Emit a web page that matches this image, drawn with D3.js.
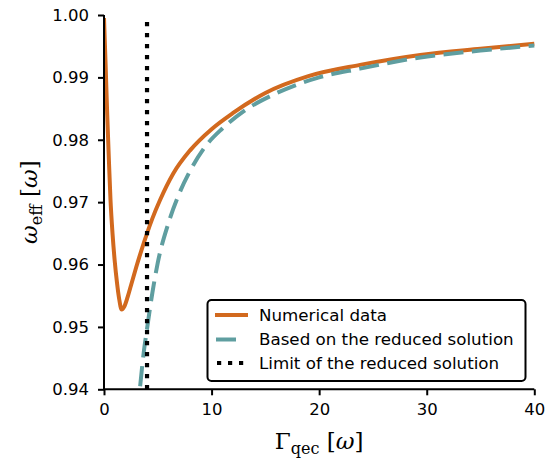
<!DOCTYPE html>
<html><head><meta charset="utf-8">
<script src="https://cdn.jsdelivr.net/npm/d3@7"></script>
<style>body{margin:0;background:#fff}</style>
</head><body>
<svg id="c" width="547" height="462"></svg>
<script>
// Numerical data (orange)
const numX = [0, 0.15, 0.3, 0.45, 0.6, 0.8, 1.0, 1.2, 1.4, 1.64, 1.9, 2.2, 2.5, 3.0, 3.5, 4.0, 4.5, 5.2, 6.44, 8.0, 10.0, 12.0, 15.0, 19.0, 23.8, 29.4, 35.0, 40.0];
const numY = [0.9995, 0.992, 0.984, 0.977, 0.9705, 0.9648, 0.9605, 0.9572, 0.9546, 0.9528, 0.9533, 0.9548, 0.9566, 0.9596, 0.9624, 0.9650, 0.9674, 0.9703, 0.9746, 0.9783, 0.9817, 0.9843, 0.9875, 0.9902, 0.9920, 0.9936, 0.9946, 0.9954];
// Based on the reduced solution (teal)
const redX = [3.36, 3.7, 4.0, 4.5, 5.0, 6.0, 7.0, 8.0, 9.5, 11.0, 13.0, 15.7, 18.2, 20.0, 23.8, 29.4, 35.0, 40.0];
const redY = [0.9405, 0.9460, 0.9497, 0.9555, 0.9603, 0.9667, 0.9714, 0.9750, 0.9791, 0.9818, 0.9846, 0.9872, 0.9890, 0.9900, 0.9914, 0.9932, 0.9943, 0.9951];
// Limit of the reduced solution (vertical dotted)
const limX = [4.0, 4.0];
const limY = [0.94, 0.9995];
const xTicks = [0, 10, 20, 30, 40];
const yTicks = [0.94, 0.95, 0.96, 0.97, 0.98, 0.99, 1.00];
const legendLabels = ["Numerical data", "Based on the reduced solution", "Limit of the reduced solution"];

const svg = d3.select("#c");
const L = 104, R = 534.3, T = 15, B = 389.3;
const x = d3.scaleLinear().domain([0, 40]).range([L, R]);
const y = d3.scaleLinear().domain([0.94, 1.00]).range([B, T]);

svg.append("defs").append("clipPath").attr("id", "clip")
  .append("rect").attr("x", L).attr("y", T - 2).attr("width", R - L + 2).attr("height", B - T + 2);

const line = d3.line().x(d => x(d[0])).y(d => y(d[1])).curve(d3.curveMonotoneX);
const lineLin = d3.line().x(d => x(d[0])).y(d => y(d[1]));
const g = svg.append("g").attr("clip-path", "url(#clip)");

g.append("path").datum(numX.map((v, i) => [v, numY[i]]))
  .attr("d", line).attr("fill", "none").attr("stroke", "#d2691e")
  .attr("stroke-width", 4).attr("stroke-linejoin", "round");
g.append("path").datum(redX.map((v, i) => [v, redY[i]]))
  .attr("d", line).attr("fill", "none").attr("stroke", "#5f9ea0")
  .attr("stroke-width", 4).attr("stroke-dasharray", "20,8.5");
g.append("path").datum(limX.map((v, i) => [v, limY[i]]))
  .attr("d", lineLin).attr("fill", "none").attr("stroke", "#000")
  .attr("stroke-width", 4.2).attr("stroke-dasharray", "4.2,6.8");

// Axes
const font = "'DejaVu Sans', sans-serif";
const xAxis = svg.append("g").attr("transform", `translate(0,${B})`)
  .call(d3.axisBottom(x).tickValues(xTicks).tickFormat(d3.format("d")).tickSize(6).tickPadding(8));
const yAxis = svg.append("g").attr("transform", `translate(${L},0)`)
  .call(d3.axisLeft(y).tickValues(yTicks).tickFormat(d3.format(".2f")).tickSize(6).tickPadding(9));
[xAxis, yAxis].forEach(a => {
  a.select(".domain").attr("stroke-width", 2).attr("stroke", "#000");
  a.selectAll(".tick line").attr("stroke-width", 2).attr("stroke", "#000");
  a.selectAll(".tick text").attr("font-family", font).attr("font-size", 16.5).attr("fill", "#000");
});
xAxis.select(".domain").attr("d", `M${L},0H${R}`);
yAxis.select(".domain").attr("d", `M0,${B}V${T}`);

// Axis labels
const serif = "'DejaVu Serif', serif";
const xl = svg.append("text").attr("x", (L + R) / 2).attr("y", 449).attr("text-anchor", "middle")
  .attr("font-family", serif).attr("font-size", 23).attr("fill", "#000");
xl.append("tspan").text("Γ");
xl.append("tspan").attr("font-size", 16).attr("dy", 5).text("qec");
xl.append("tspan").attr("dy", -5).text(" [");
xl.append("tspan").attr("font-style", "italic").text("ω");
xl.append("tspan").text("]");

const yl = svg.append("text").attr("transform", `translate(37,${(T + B) / 2}) rotate(-90)`)
  .attr("text-anchor", "middle").attr("font-family", serif).attr("font-size", 23).attr("fill", "#000");
yl.append("tspan").attr("font-style", "italic").text("ω");
yl.append("tspan").attr("font-size", 16).attr("dy", 5).text("eff");
yl.append("tspan").attr("dy", -5).text(" [");
yl.append("tspan").attr("font-style", "italic").text("ω");
yl.append("tspan").text("]");

// Legend
const lg = svg.append("g");
lg.append("rect").attr("x", 207.5).attr("y", 300).attr("width", 318).attr("height", 81)
  .attr("rx", 4).attr("fill", "#fff").attr("stroke", "#000").attr("stroke-width", 2);
const styles = [
  {c: "#d2691e", dash: null, x1: 215, x2: 248, w: 4},
  {c: "#5f9ea0", dash: "20,8.5", x1: 216, x2: 237, w: 4},
  {c: "#000", dash: "4.2,6.8", x1: 217, x2: 244, w: 4.2}
];
const rowsY = [315, 339.5, 363];
legendLabels.forEach((t, i) => {
  lg.append("line").attr("x1", styles[i].x1).attr("x2", styles[i].x2).attr("y1", rowsY[i]).attr("y2", rowsY[i])
    .attr("stroke", styles[i].c).attr("stroke-width", styles[i].w)
    .attr("stroke-dasharray", styles[i].dash);
  lg.append("text").attr("x", 259).attr("y", rowsY[i]).attr("dy", "0.35em")
    .attr("font-family", font).attr("font-size", 16.7).attr("fill", "#000").text(t);
});
</script>
</body></html>
